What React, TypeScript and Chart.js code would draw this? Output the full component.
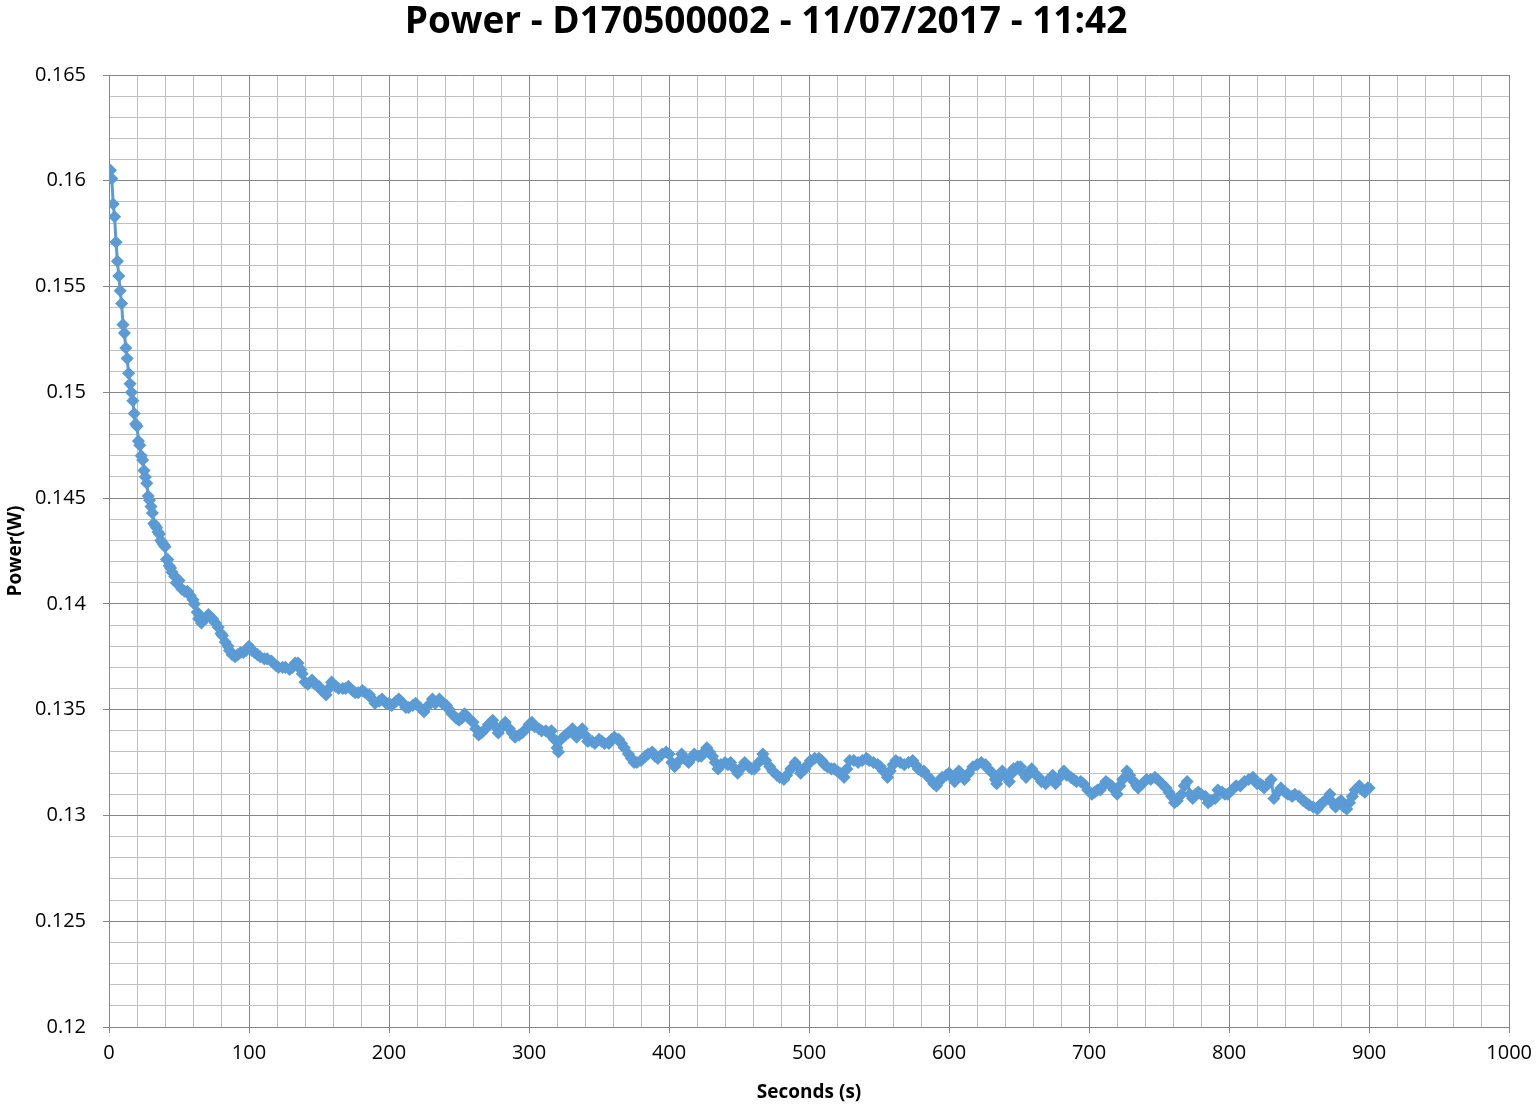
import React, { useEffect, useRef } from "react";
import { Chart, registerables } from "chart.js";

Chart.register(...registerables);

const TITLE = "Power - D170500002 - 11/07/2017 - 11:42";
const X_TITLE = "Seconds (s)";
const Y_TITLE = "Power(W)";

const X_MIN = 0;
const X_MAX = 1000;
const Y_MIN = 0.12;
const Y_MAX = 0.165;

const seconds = [
  1, 2, 3, 4, 5, 6, 7, 8, 9, 10, 11, 12, 13, 14, 15, 16, 17, 18, 19, 20,
  21, 22, 23, 24, 25, 26, 27, 28, 29, 30, 31, 32, 33, 34, 35, 36, 37, 38, 39, 40,
  41, 42, 43, 44, 45, 47, 48, 50, 52, 54, 56, 58, 60, 61, 63, 64, 66, 67, 69, 71,
  72, 74, 76, 78, 80, 81, 83, 85, 86, 88, 90, 92, 94, 96, 98, 100, 102, 104, 106, 108,
  111, 113, 116, 119, 121, 124, 126, 129, 131, 133, 135, 137, 138, 140, 142, 145, 147, 150, 152, 155,
  157, 159, 162, 164, 167, 169, 171, 174, 176, 178, 181, 183, 186, 188, 190, 193, 195, 198, 200, 202,
  205, 207, 210, 212, 214, 217, 219, 222, 225, 228, 231, 233, 236, 238, 241, 243, 245, 248, 250, 252,
  254, 257, 260, 262, 264, 266, 269, 271, 274, 276, 278, 281, 283, 286, 288, 290, 293, 295, 298, 300,
  302, 304, 307, 309, 312, 314, 316, 318, 320, 321, 323, 326, 328, 331, 333, 334, 336, 338, 340, 342,
  345, 347, 350, 352, 354, 357, 359, 361, 364, 366, 368, 371, 373, 375, 377, 380, 383, 385, 388, 390,
  392, 395, 398, 400, 402, 404, 406, 409, 411, 414, 416, 418, 421, 423, 425, 427, 429, 431, 433, 435,
  437, 440, 442, 444, 447, 449, 451, 454, 457, 459, 461, 464, 467, 469, 472, 474, 477, 479, 482, 484,
  487, 490, 492, 494, 497, 499, 501, 504, 507, 509, 511, 513, 516, 518, 520, 522, 525, 527, 529, 532,
  535, 538, 541, 543, 546, 549, 551, 553, 556, 558, 560, 562, 565, 568, 571, 574, 576, 578, 580, 582,
  584, 587, 589, 591, 593, 595, 598, 600, 602, 604, 606, 607, 609, 611, 614, 617, 620, 623, 626, 628,
  631, 633, 634, 636, 638, 640, 643, 645, 646, 649, 651, 653, 655, 657, 659, 661, 664, 666, 669, 671,
  674, 676, 679, 682, 684, 687, 689, 691, 694, 696, 699, 702, 704, 706, 708, 710, 712, 714, 716, 718,
  720, 722, 724, 727, 729, 732, 734, 735, 738, 741, 744, 747, 749, 752, 755, 757, 759, 761, 763, 766,
  768, 770, 772, 774, 776, 778, 780, 783, 785, 787, 790, 792, 795, 797, 799, 802, 805, 808, 811, 814,
  817, 820, 822, 824, 825, 828, 830, 832, 835, 837, 840, 842, 845, 847, 850, 853, 855, 857, 860, 863,
  865, 867, 870, 872, 874, 876, 878, 880, 882, 884, 886, 888, 890, 893, 895, 897, 899, 900,
];

const power = [
  0.1605, 0.1601, 0.1589, 0.1583, 0.1571, 0.1562, 0.1555, 0.1548, 0.1542, 0.1532, 0.1528, 0.1521, 0.1516, 0.1509, 0.1504, 0.15, 0.1496, 0.149, 0.1485, 0.1484,
  0.1477, 0.1475, 0.147, 0.1468, 0.1463, 0.146, 0.1457, 0.1451, 0.1449, 0.1446, 0.1443, 0.1438, 0.1437, 0.1436, 0.1434, 0.1433, 0.143, 0.1429, 0.1428, 0.1427,
  0.1421, 0.1421, 0.1418, 0.1417, 0.1415, 0.1413, 0.141, 0.1411, 0.1407, 0.1406, 0.1406, 0.1404, 0.1402, 0.14, 0.1396, 0.1393, 0.1391, 0.1393, 0.1393, 0.1395,
  0.1394, 0.1393, 0.1391, 0.1389, 0.1386, 0.1385, 0.1382, 0.138, 0.1378, 0.1376, 0.1375, 0.1376, 0.1377, 0.1377, 0.1378, 0.138, 0.1378, 0.1377, 0.1376, 0.1375,
  0.1374, 0.1374, 0.1373, 0.1371, 0.137, 0.137, 0.137, 0.1369, 0.137, 0.1372, 0.1372, 0.1369, 0.1367, 0.1363, 0.1362, 0.1364, 0.1362, 0.1361, 0.1359, 0.1357,
  0.136, 0.1363, 0.1361, 0.136, 0.136, 0.136, 0.1361, 0.1359, 0.1358, 0.1358, 0.1359, 0.1358, 0.1357, 0.1355, 0.1353, 0.1354, 0.1355, 0.1353, 0.1353, 0.1352,
  0.1354, 0.1355, 0.1353, 0.1351, 0.1351, 0.1352, 0.1353, 0.1351, 0.1349, 0.1352, 0.1355, 0.1353, 0.1355, 0.1353, 0.1352, 0.135, 0.1348, 0.1346, 0.1345, 0.1346,
  0.1348, 0.1346, 0.1344, 0.1341, 0.1338, 0.1339, 0.1341, 0.1343, 0.1345, 0.1342, 0.1339, 0.1342, 0.1344, 0.1341, 0.1339, 0.1337, 0.1338, 0.1339, 0.1341, 0.1343,
  0.1344, 0.1342, 0.1341, 0.134, 0.134, 0.1339, 0.134, 0.1336, 0.1332, 0.133, 0.1336, 0.1338, 0.1339, 0.1341, 0.1339, 0.1337, 0.1339, 0.1341, 0.1338, 0.1335,
  0.1335, 0.1334, 0.1336, 0.1335, 0.1334, 0.1334, 0.1336, 0.1337, 0.1336, 0.1334, 0.1332, 0.1329, 0.1327, 0.1325, 0.1325, 0.1326, 0.1328, 0.1329, 0.133, 0.1328,
  0.1327, 0.1329, 0.133, 0.1329, 0.1325, 0.1323, 0.1325, 0.1329, 0.1327, 0.1325, 0.1327, 0.1329, 0.1328, 0.1328, 0.133, 0.1332, 0.133, 0.1328, 0.1325, 0.1322,
  0.1324, 0.1325, 0.1324, 0.1325, 0.1322, 0.132, 0.1322, 0.1325, 0.1323, 0.1322, 0.1322, 0.1325, 0.1329, 0.1326, 0.1323, 0.1321, 0.1319, 0.1318, 0.1317, 0.1319,
  0.1322, 0.1325, 0.1323, 0.132, 0.1322, 0.1324, 0.1326, 0.1327, 0.1327, 0.1326, 0.1324, 0.1323, 0.1322, 0.1322, 0.1321, 0.132, 0.1318, 0.1322, 0.1326, 0.1326,
  0.1325, 0.1326, 0.1327, 0.1326, 0.1325, 0.1324, 0.1323, 0.1321, 0.1318, 0.1321, 0.1324, 0.1326, 0.1325, 0.1324, 0.1325, 0.1326, 0.1324, 0.1322, 0.1321, 0.1321,
  0.1319, 0.1317, 0.1315, 0.1314, 0.1316, 0.1318, 0.1319, 0.132, 0.1318, 0.1316, 0.1319, 0.1321, 0.1319, 0.1317, 0.132, 0.1323, 0.1324, 0.1325, 0.1324, 0.1322,
  0.132, 0.1317, 0.1315, 0.1318, 0.1321, 0.1319, 0.1316, 0.132, 0.1322, 0.1323, 0.1323, 0.132, 0.1318, 0.132, 0.1322, 0.132, 0.1318, 0.1316, 0.1315, 0.1317,
  0.1319, 0.1315, 0.1318, 0.1321, 0.1319, 0.1318, 0.1317, 0.1316, 0.1316, 0.1315, 0.1312, 0.131, 0.1311, 0.1312, 0.1312, 0.1314, 0.1316, 0.1315, 0.1314, 0.1312,
  0.131, 0.1314, 0.1317, 0.1321, 0.1319, 0.1316, 0.1314, 0.1313, 0.1315, 0.1317, 0.1317, 0.1318, 0.1317, 0.1315, 0.1313, 0.1311, 0.1309, 0.1306, 0.1307, 0.131,
  0.1314, 0.1316, 0.131, 0.1308, 0.131, 0.1311, 0.131, 0.1309, 0.1306, 0.1307, 0.1308, 0.1312, 0.1311, 0.131, 0.131, 0.1312, 0.1314, 0.1314, 0.1316, 0.1317,
  0.1318, 0.1315, 0.1315, 0.1314, 0.1313, 0.1315, 0.1317, 0.1308, 0.1311, 0.1313, 0.1311, 0.131, 0.1309, 0.131, 0.1309, 0.1307, 0.1306, 0.1305, 0.1304, 0.1303,
  0.1305, 0.1306, 0.1308, 0.131, 0.1306, 0.1304, 0.1306, 0.1307, 0.1304, 0.1303, 0.1306, 0.1309, 0.1312, 0.1314, 0.1312, 0.1311, 0.1313, 0.1313,
];

const LINE_COLOR = "#5B9BD5";
const MAJOR_GRID = "#868686";
const MINOR_GRID = "#C0C0C0";
const FONT = "'Open Sans', 'DejaVu Sans', sans-serif";

const W = 1540;
const H = 1108;

export default function App() {
  const ref = useRef<HTMLCanvasElement | null>(null);

  useEffect(() => {
    const canvas = ref.current;
    if (!canvas) return;
    const points = seconds.map((s, i) => ({ x: s, y: power[i] }));
    const isMajorY = (v: number) => Math.round(v * 1000) % 5 === 0;
    const isMajorX = (v: number) => Math.round(v) % 100 === 0;

    const chart = new Chart(canvas, {
      type: "line",
      data: {
        datasets: [
          {
            label: "Power",
            data: points,
            borderColor: LINE_COLOR,
            backgroundColor: LINE_COLOR,
            borderWidth: 3,
            pointStyle: "rectRot",
            pointRadius: 5.5,
            pointBorderWidth: 1.5,
            pointBackgroundColor: LINE_COLOR,
            pointBorderColor: LINE_COLOR,
            tension: 0,
          },
        ],
      },
      options: {
        responsive: false,
        animation: false,
        layout: { padding: { left: 0, right: 8, top: 0, bottom: 0 } },
        plugins: {
          legend: { display: false },
          tooltip: { enabled: false },
          title: {
            display: true,
            text: TITLE,
            color: "#000",
            font: { family: FONT, size: 37, weight: "bold", lineHeight: 1.2 },
            padding: { top: 0, bottom: 30.6 },
          },
        },
        scales: {
          x: {
            type: "linear",
            min: X_MIN,
            max: X_MAX,
            afterFit: (s: any) => {
              s.height = 81;
            },
            ticks: {
              stepSize: 20,
              autoSkip: false,
              maxRotation: 0,
              color: "#000",
              padding: 8,
              font: { family: FONT, size: 20 },
              callback: (v: any) => (isMajorX(Number(v)) ? String(Math.round(Number(v))) : ""),
            },
            grid: {
              color: (ctx: any) => (isMajorX(ctx.tick?.value ?? 0) ? MAJOR_GRID : MINOR_GRID),
              tickColor: (ctx: any) => (isMajorX(ctx.tick?.value ?? 0) ? MAJOR_GRID : "rgba(0,0,0,0)"),
              lineWidth: 1,
              tickLength: 6,
              drawTicks: true,
            },
            border: { color: MAJOR_GRID, width: 1 },
            title: {
              display: true,
              text: X_TITLE,
              color: "#000",
              font: { family: FONT, size: 19, weight: "bold" },
              padding: { top: 0, bottom: 4 },
            },
          },
          y: {
            type: "linear",
            min: Y_MIN,
            max: Y_MAX,
            afterFit: (s: any) => {
              s.width = 109;
            },
            ticks: {
              stepSize: 0.001,
              autoSkip: false,
              color: "#000",
              padding: 17,
              font: { family: FONT, size: 20 },
              callback: (v: any) => {
                const n = Number(v);
                return isMajorY(n) ? String(Math.round(n * 1000) / 1000) : "";
              },
            },
            grid: {
              color: (ctx: any) => (isMajorY(ctx.tick?.value ?? 0) ? MAJOR_GRID : MINOR_GRID),
              tickColor: (ctx: any) => (isMajorY(ctx.tick?.value ?? 0) ? MAJOR_GRID : "rgba(0,0,0,0)"),
              lineWidth: 1,
              tickLength: 6,
              drawTicks: true,
            },
            border: { color: MAJOR_GRID, width: 1 },
            title: {
              display: true,
              text: Y_TITLE,
              color: "#000",
              font: { family: FONT, size: 19, weight: "bold" },
              padding: { top: 4, bottom: 0 },
            },
          },
          spacer: {
            type: "linear",
            position: "right",
            display: true,
            min: 0,
            max: 1,
            afterFit: (s: any) => {
              s.width = 19;
            },
            ticks: { display: false },
            grid: { display: false, drawTicks: false },
            border: { display: false },
            title: { display: false },
          },
        },
      },
    });
    return () => chart.destroy();
  }, []);

  return (
    <div style={{ position: "absolute", left: 0, top: 0, width: W, height: H, background: "#fff" }}>
      <canvas ref={ref} width={W} height={H} style={{ width: W, height: H, display: "block" }} />
    </div>
  );
}
